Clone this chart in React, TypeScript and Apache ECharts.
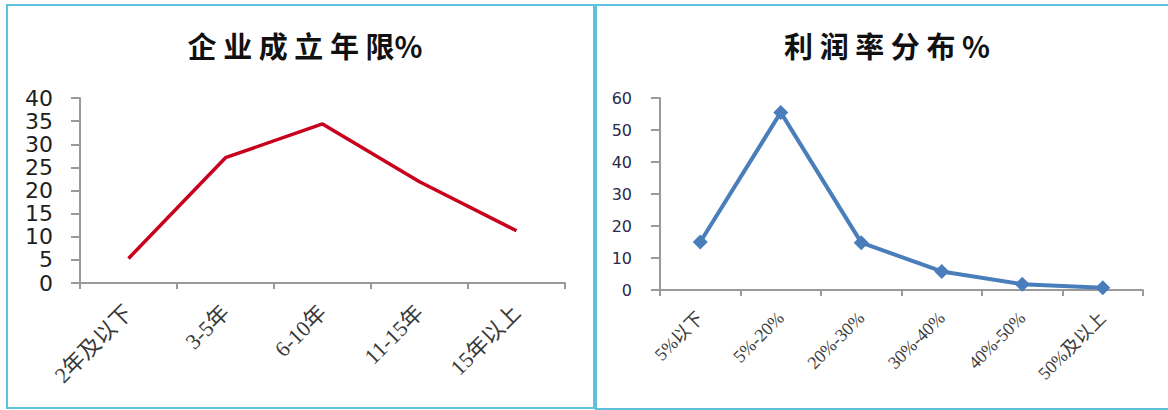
import React, { useEffect, useRef } from "react";
import * as echarts from "echarts";

// Left panel: company age distribution (%)
const ageCategories = ["2年及以下", "3-5年", "6-10年", "11-15年", "15年以上"];
const ageValues = [5.3, 27.1, 34.4, 21.9, 11.3];

// Right panel: profit margin distribution (%)
const profitCategories = ["5%以下", "5%-20%", "20%-30%", "30%-40%", "40%-50%", "50%及以上"];
const profitValues = [15, 55.5, 14.8, 5.8, 1.8, 0.7];

const leftTitle = "企 业 成 立 年 限%";
const rightTitle = "利 润 率 分 布 %";

const serifCJK = "Liberation Serif, 'Noto Sans CJK SC', serif";
const sansNum = "'DejaVu Sans', Verdana, sans-serif";
const titleFont = "'Noto Sans CJK SC', sans-serif";

export default function App() {
  const ref = useRef<HTMLDivElement>(null);

  useEffect(() => {
    if (!ref.current) return;
    const chart = echarts.init(ref.current, null, { renderer: "svg" });
    const borderColor = "#5fc1dc";
    const axisGray = "#9a9a9a";

    chart.setOption({
      animation: false,
      backgroundColor: "#ffffff",
      title: [
        {
          text: leftTitle,
          left: 300,
          top: 25,
          textAlign: "center",
          textStyle: { fontFamily: titleFont, fontSize: 29, fontWeight: "bold", color: "#111" },
        },
        {
          text: rightTitle,
          left: 882,
          top: 25,
          textAlign: "center",
          textStyle: { fontFamily: titleFont, fontSize: 29, fontWeight: "bold", color: "#111" },
        },
      ],
      graphic: [
        {
          type: "rect",
          shape: { x: 7, y: 5, width: 587, height: 403 },
          style: { fill: "none", stroke: borderColor, lineWidth: 2 },
          silent: true,
        },
        {
          type: "rect",
          shape: { x: 596, y: 5, width: 600, height: 404 },
          style: { fill: "none", stroke: borderColor, lineWidth: 2 },
          silent: true,
        },
      ],
      grid: [
        { left: 80, right: 603, top: 98, bottom: 127 },
        { left: 660, right: 25, top: 98, bottom: 120 },
      ],
      xAxis: [
        {
          type: "category",
          gridIndex: 0,
          data: ageCategories,
          boundaryGap: true,
          axisLine: { lineStyle: { color: axisGray, width: 2 } },
          axisTick: { show: true, length: 6, lineStyle: { color: axisGray, width: 2 } },
          axisLabel: {
            rotate: 45,
            margin: 26,
            fontSize: 22,
            fontFamily: serifCJK,
            color: "#383838",
            interval: 0,
          },
        },
        {
          type: "category",
          gridIndex: 1,
          data: profitCategories,
          boundaryGap: true,
          axisLine: { lineStyle: { color: axisGray, width: 2 } },
          axisTick: { show: true, length: 6, lineStyle: { color: axisGray, width: 2 } },
          axisLabel: {
            rotate: 45,
            margin: 25,
            fontSize: 18,
            fontFamily: serifCJK,
            color: "#3a3a3a",
            interval: 0,
          },
        },
      ],
      yAxis: [
        {
          type: "value",
          gridIndex: 0,
          min: 0,
          max: 40,
          interval: 5,
          splitLine: { show: false },
          axisLine: { show: true, lineStyle: { color: axisGray, width: 2 } },
          axisTick: { show: true, length: 9, lineStyle: { color: axisGray, width: 2 } },
          axisLabel: { margin: 27, fontSize: 22, fontFamily: sansNum, color: "#1e1e1e" },
        },
        {
          type: "value",
          gridIndex: 1,
          min: 0,
          max: 60,
          interval: 10,
          splitLine: { show: false },
          axisLine: { show: true, lineStyle: { color: axisGray, width: 2 } },
          axisTick: { show: true, length: 9, lineStyle: { color: axisGray, width: 2 } },
          axisLabel: { margin: 28, fontSize: 16, fontFamily: sansNum, color: "#2a2a4a" },
        },
      ],
      series: [
        {
          type: "line",
          xAxisIndex: 0,
          yAxisIndex: 0,
          data: ageValues,
          symbol: "none",
          lineStyle: { color: "#c8001e", width: 3.5 },
        },
        {
          type: "line",
          xAxisIndex: 1,
          yAxisIndex: 1,
          data: profitValues,
          symbol: "diamond",
          symbolSize: 15,
          itemStyle: { color: "#4a7ebb" },
          lineStyle: { color: "#4a7ebb", width: 4 },
        },
      ],
    });

    return () => chart.dispose();
  }, []);

  return (
    <div
      ref={ref}
      style={{ position: "fixed", left: 0, top: 0, width: 1168, height: 410 }}
    />
  );
}
